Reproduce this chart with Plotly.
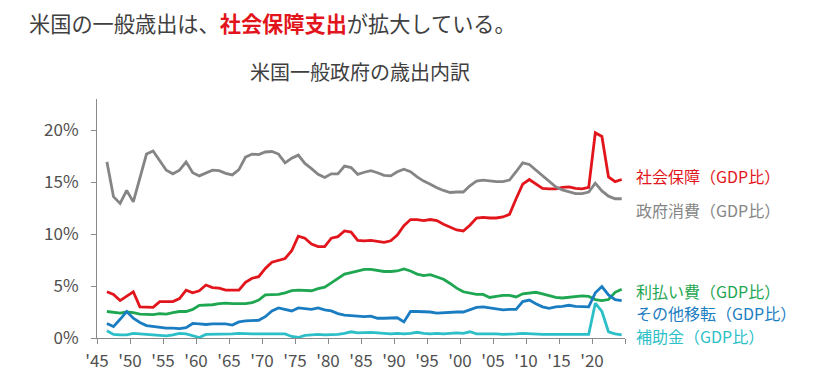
import plotly.graph_objects as go

years = list(range(1946, 2025))

social_security = [4.45, 4.2, 3.6, 4.05, 4.45, 3.0, 2.95, 2.95, 3.5, 3.5, 3.5, 3.8, 4.6, 4.35, 4.55,
                   5.1, 4.85, 4.8, 4.6, 4.6, 4.6, 5.35, 5.75, 5.9, 6.7, 7.3, 7.45, 7.65, 8.4, 9.8,
                   9.6, 9.05, 8.8, 8.8, 9.6, 9.75, 10.3, 10.2, 9.4, 9.35, 9.4, 9.3, 9.2, 9.35, 9.9,
                   10.8, 11.4, 11.4, 11.3, 11.4, 11.3, 10.95, 10.7, 10.4, 10.3, 10.85, 11.55, 11.6,
                   11.55, 11.55, 11.65, 11.9, 13.4, 14.8, 15.25, 14.85, 14.4, 14.35, 14.35, 14.5,
                   14.55, 14.4, 14.35, 14.5, 19.75, 19.4, 15.5, 15.05, 15.25]

gov_consumption = [16.95, 13.6, 12.95, 14.2, 13.1, 15.5, 17.7, 18.0, 17.05, 16.15, 15.8, 16.15, 16.95,
                   15.9, 15.6, 15.85, 16.15, 16.1, 15.85, 15.7, 16.2, 17.4, 17.7, 17.65, 17.9, 17.95,
                   17.7, 16.85, 17.3, 17.6, 16.8, 16.3, 15.75, 15.45, 15.8, 15.8, 16.55, 16.4, 15.75,
                   15.95, 16.1, 15.9, 15.65, 15.6, 16.0, 16.25, 16.0, 15.5, 15.1, 14.8, 14.45, 14.2,
                   14.0, 14.05, 14.05, 14.65, 15.1, 15.2, 15.1, 15.05, 15.05, 15.2, 16.0, 16.85, 16.7,
                   16.15, 15.6, 15.05, 14.55, 14.25, 14.1, 13.9, 13.9, 14.05, 14.9, 14.15, 13.65,
                   13.4, 13.4]

interest = [2.55, 2.5, 2.4, 2.5, 2.45, 2.3, 2.25, 2.25, 2.35, 2.3, 2.45, 2.55, 2.55, 2.75, 3.15,
            3.15, 3.2, 3.3, 3.35, 3.3, 3.3, 3.3, 3.4, 3.65, 4.15, 4.2, 4.2, 4.35, 4.55, 4.6,
            4.6, 4.55, 4.75, 4.9, 5.3, 5.75, 6.15, 6.3, 6.45, 6.6, 6.6, 6.5, 6.4, 6.4, 6.45,
            6.65, 6.45, 6.15, 6.0, 6.1, 5.9, 5.65, 5.25, 4.8, 4.45, 4.3, 4.2, 4.2, 3.9, 4.0,
            4.1, 4.1, 3.95, 4.25, 4.3, 4.4, 4.25, 4.05, 3.9, 3.85, 3.9, 4.0, 4.05, 4.0, 3.7,
            3.6, 3.7, 4.4, 4.7]

other_transfers = [1.4, 1.1, 1.8, 2.55, 1.9, 1.5, 1.2, 1.1, 1.0, 0.95, 0.95, 0.9, 1.0, 1.4, 1.35,
                   1.3, 1.35, 1.35, 1.35, 1.25, 1.55, 1.65, 1.7, 1.7, 2.05, 2.6, 2.9, 2.75, 2.6,
                   2.9, 2.85, 2.75, 2.9, 2.7, 2.6, 2.35, 2.2, 2.15, 2.05, 2.05, 2.1, 1.9, 1.9, 1.9,
                   1.95, 1.55, 2.55, 2.55, 2.55, 2.5, 2.4, 2.45, 2.5, 2.5, 2.5, 2.75, 2.95, 3.0,
                   2.9, 2.8, 2.7, 2.75, 2.75, 3.5, 3.65, 3.3, 3.0, 2.85, 3.0, 3.05, 3.15, 3.05,
                   3.0, 3.0, 4.35, 4.95, 4.15, 3.7, 3.6]

subsidies = [0.7, 0.35, 0.3, 0.3, 0.45, 0.4, 0.3, 0.25, 0.2, 0.2, 0.3, 0.45, 0.4, 0.2, 0.05,
             0.35, 0.35, 0.35, 0.35, 0.4, 0.45, 0.4, 0.4, 0.4, 0.4, 0.4, 0.45, 0.4, 0.15, 0.05,
             0.25, 0.3, 0.35, 0.3, 0.3, 0.35, 0.45, 0.6, 0.5, 0.55, 0.55, 0.5, 0.45, 0.4, 0.45,
             0.4, 0.45, 0.55, 0.45, 0.4, 0.45, 0.4, 0.45, 0.5, 0.45, 0.6, 0.4, 0.4, 0.45, 0.4,
             0.35, 0.35, 0.4, 0.45, 0.4, 0.4, 0.35, 0.35, 0.35, 0.3, 0.3, 0.3, 0.3, 0.35, 3.35,
             2.55, 0.6, 0.4, 0.3]

tick_years = list(range(1945, 2026, 5))
tick_labels = ["'45", "'50", "'55", "'60", "'65", "'70", "'75", "'80", "'85", "'90",
               "'95", "'00", "'05", "'10", "'15", "'20", ""]
y_ticks = [0, 5, 10, 15, 20]
y_tick_labels = ["0%", "5%", "10%", "15%", "20%"]

names = ["社会保障（GDP比）", "政府消費（GDP比）", "利払い費（GDP比）",
         "その他移転（GDP比）", "補助金（GDP比）"]
values = [social_security, gov_consumption, interest, other_transfers, subsidies]
colors = ["#e3151c", "#858585", "#1ea651", "#1b7dc1", "#2dbfc8"]

FONT = "Noto Sans CJK JP"
W, H = 824, 377
L, R, T, B = 97, 199, 99, 39
PW, PH = W - L - R, H - T - B


def px_to_paper(x, y):
    return (x - L) / PW, (H - B - y) / PH


x_mid = [y + 0.5 for y in years]

fig = go.Figure()
for name, vals, color in zip(names, values, colors):
    fig.add_trace(go.Scatter(x=x_mid, y=vals, mode="lines", name=name,
                             line=dict(color=color, width=2.8), cliponaxis=False,
                             hoverinfo="skip"))

# right-hand labels
label_px_y = [176, 210, 290.5, 313.3, 336]
for name, color, py in zip(names, colors, label_px_y):
    lx, ly = px_to_paper(634, py)
    fig.add_annotation(x=lx, y=ly, xref="paper", yref="paper", text=name, showarrow=False,
                       xanchor="left", yanchor="middle",
                       font=dict(family=FONT, size=16, color=color))

# headline
hx, hy = px_to_paper(27, 22)
fig.add_annotation(x=hx, y=hy, xref="paper", yref="paper", showarrow=False,
                   xanchor="left", yanchor="middle",
                   text="米国の一般歳出は、<b><span style='color:#e3151c'>社会保障支出</span></b>が拡大している。",
                   font=dict(family=FONT, size=21.2, color="#404040"))

fig.update_layout(
    width=W, height=H,
    margin=dict(l=L, r=R, t=T, b=B, autoexpand=False),
    paper_bgcolor="white", plot_bgcolor="white",
    showlegend=False,
    font=dict(family=FONT, color="#505050"),
    title=dict(text="米国一般政府の歳出内訳", x=360 / W, xanchor="center",
               y=1 - 73 / H, yanchor="middle",
               font=dict(family=FONT, size=20, color="#404040")),
    xaxis=dict(range=[1945, 2025], tickvals=tick_years, ticktext=tick_labels,
               showline=True, linecolor="#8a8a8a", linewidth=1,
               ticks="outside", ticklen=5, tickcolor="#8a8a8a",
               ticklabelstandoff=3,
               showgrid=False, zeroline=False, automargin=False,
               tickfont=dict(family=FONT, size=17, color="#505050")),
    yaxis=dict(range=[0, 23], tickvals=y_ticks, ticktext=y_tick_labels,
               showline=True, linecolor="#8a8a8a", linewidth=1,
               ticks="outside", ticklen=5, tickcolor="#8a8a8a",
               ticklabelstandoff=9,
               showgrid=False, zeroline=False, automargin=False,
               tickfont=dict(family=FONT, size=17, color="#505050")),
)

fig.write_html("out.html", config={"displayModeBar": False},
               post_script="document.body.style.margin='0';document.body.style.padding='0';")
